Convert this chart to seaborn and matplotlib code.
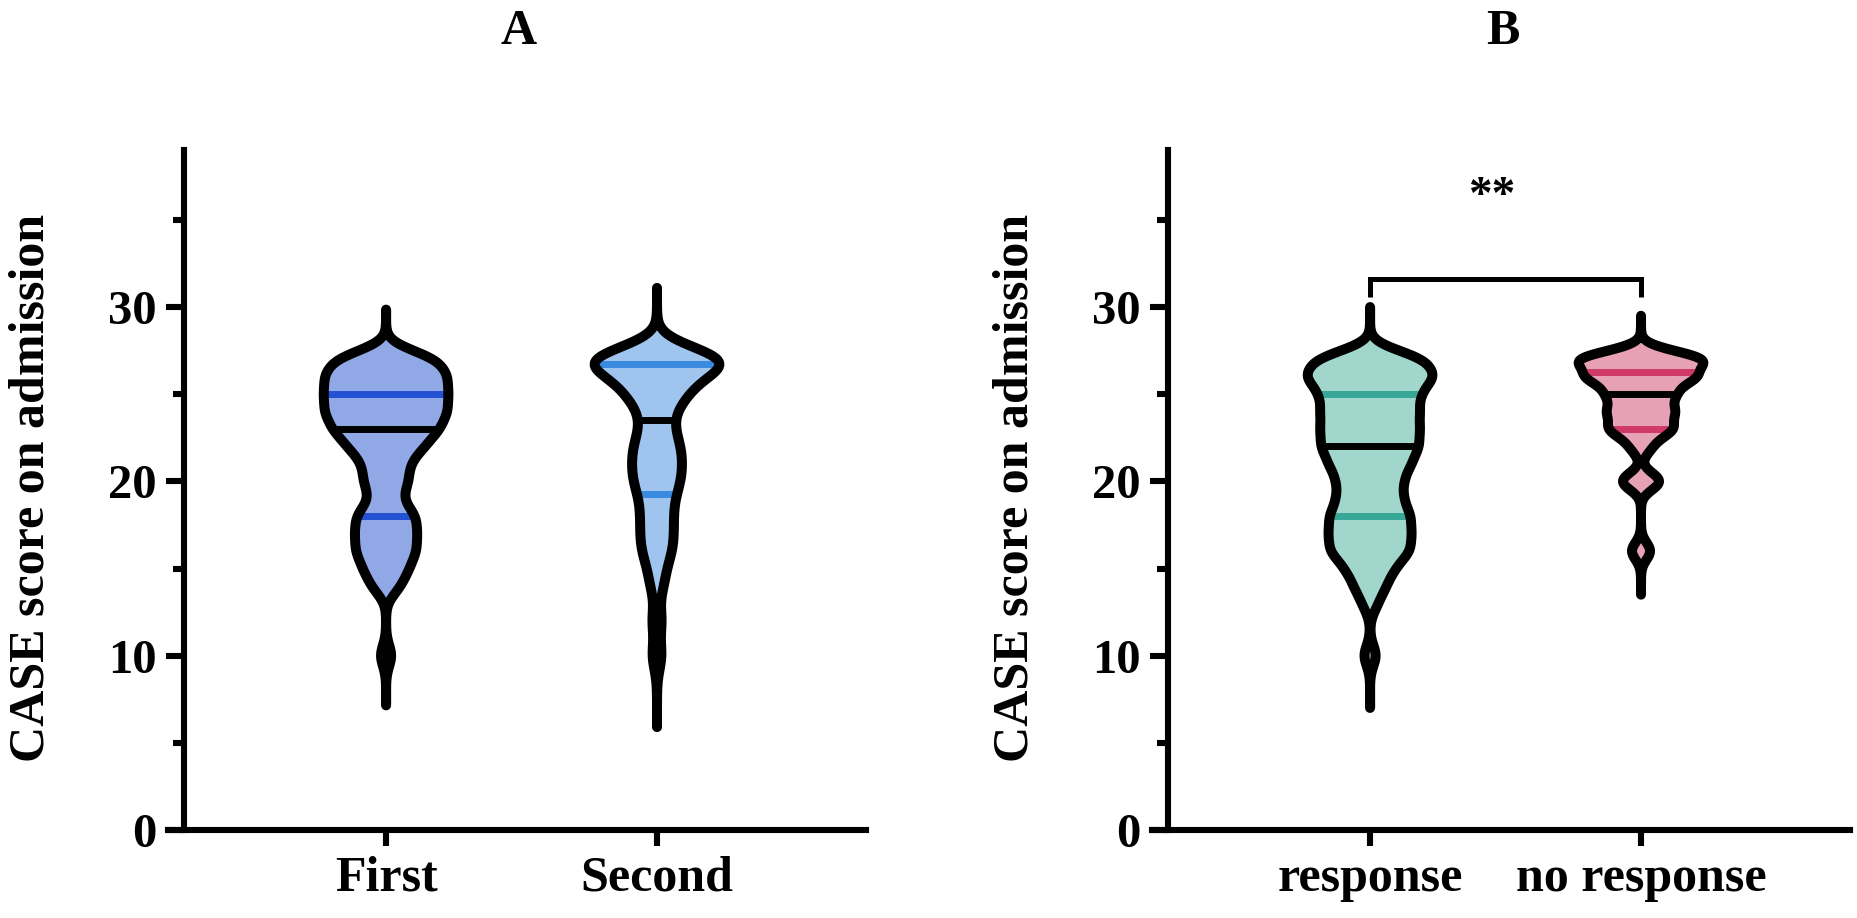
import numpy as np
import pandas as pd
import matplotlib
matplotlib.use("Agg")
from matplotlib import pyplot as plt
from matplotlib.patches import PathPatch
import seaborn as sns

# ---------------------------------------------------------------------
# data : CASE score -> number of patients (estimated from the violins)
first_scores = [10, 14, 15, 16, 17, 18, 19, 20, 21, 22, 23, 24, 25, 26, 27]
first_counts = [1, 2, 3, 4, 4, 4, 2, 3, 3, 5, 7, 8, 8, 8, 7]

second_scores = [10, 12, 14, 15, 16, 17, 18, 19, 20, 21, 22, 23, 24, 25, 26, 27]
second_counts = [1, 1, 1, 1, 2, 2, 2, 2, 3, 3, 3, 2, 2, 4, 5, 12]

resp_scores = [10, 13, 14, 15, 16, 17, 18, 19, 20, 21, 22, 23, 24, 25, 26, 27]
resp_counts = [1, 1, 2, 3, 5, 5, 5, 4, 4, 5, 6, 6, 6, 6, 8, 7]

noresp_scores = [16, 20, 22, 23, 24, 25, 26, 27]
noresp_counts = [1, 2, 1, 3, 3, 3, 5, 6]

panel_a_groups = ["First", "Second"]
panel_b_groups = ["response", "no response"]
panel_titles = ["A", "B"]
y_label = "CASE score on admission"
sig_label = "**"

# ---------------------------------------------------------------------
# styles
fills = {"First": "#91a8e6", "Second": "#9fc4ee",
         "response": "#a0d6cc", "no response": "#e6a1b5"}
qcolors = {"First": "#2450d2", "Second": "#3a8ae0",
           "response": "#37a797", "no response": "#cf3a69"}
bandwidth = {"First": 0.62, "Second": 0.82, "response": 0.6, "no response": 0.5}
cut_bw = {"First": 4.6, "Second": 5.0, "response": 5.0, "no response": 5.0}

plt.rcParams["font.family"] = ["Liberation Serif", "DejaVu Serif"]
plt.rcParams["font.weight"] = "bold"

OUTLINE_LW = 7.2
QUART_LW = 5.0
SPINE_LW = 4.4


def draw_violin(ax, group, order, scores, counts):
    vals = np.repeat(scores, counts).astype(float)
    df = pd.DataFrame({"group": group, "score": vals})
    n_lines = len(ax.lines)
    n_coll = len(ax.collections)
    sd = vals.std(ddof=1)
    sns.violinplot(data=df, x="group", y="score", order=order, ax=ax,
                   color=fills[group], saturation=1, linewidth=1,
                   bw_method=bandwidth[group] / sd, cut=cut_bw[group],
                   gridsize=400, width=0.46, density_norm="width",
                   inner="quart")

    # quartile lines: solid, coloured, black median
    new_lines = ax.lines[n_lines:]
    for i, ln in enumerate(new_lines):
        ln.set_linestyle("-")
        ln.set_linewidth(QUART_LW)
        ln.set_solid_capstyle("butt")
        ln.set_color("black" if i == 1 else qcolors[group])
        ln.set_zorder(2)

    # thick outline drawn above the quartile lines
    for coll in ax.collections[n_coll:]:
        coll.set_edgecolor("none")
        for p in coll.get_paths():
            ax.add_patch(PathPatch(p, facecolor="none", edgecolor="black",
                                   lw=OUTLINE_LW, joinstyle="round",
                                   capstyle="round", zorder=3, clip_on=False))


def style_axis(ax):
    ax.set_xlim(-0.805, 1.77)
    ax.set_ylim(0, 39.5)
    for s in ["top", "right"]:
        ax.spines[s].set_visible(False)
    ax.spines["left"].set_position(("data", -0.745))
    ax.spines["left"].set_bounds(0, 39)
    ax.spines["left"].set_linewidth(SPINE_LW)
    ax.spines["bottom"].set_linewidth(SPINE_LW)
    ax.set_yticks([0, 10, 20, 30])
    ax.set_yticks([5, 15, 25, 35], minor=True)
    ax.tick_params(axis="y", which="major", length=12.7, width=SPINE_LW,
                   pad=7, labelsize=35)
    ax.tick_params(axis="y", which="minor", length=7.6, width=SPINE_LW)
    ax.tick_params(axis="x", which="major", length=11.5, width=SPINE_LW,
                   pad=7, labelsize=36)
    ax.set_xlabel("")
    ax.set_ylabel("")
    ax.grid(False)


fig = plt.figure(figsize=(18.58, 9.18), dpi=100)
ax_a = fig.add_axes([0.0904, 0.0959, 0.3755, 0.75])
ax_b = fig.add_axes([0.6200, 0.0959, 0.3755, 0.75])

draw_violin(ax_a, "First", panel_a_groups, first_scores, first_counts)
draw_violin(ax_a, "Second", panel_a_groups, second_scores, second_counts)
draw_violin(ax_b, "response", panel_b_groups, resp_scores, resp_counts)
draw_violin(ax_b, "no response", panel_b_groups, noresp_scores, noresp_counts)

for ax in (ax_a, ax_b):
    style_axis(ax)

# significance bracket
ax_b.plot([0, 0, 1, 1], [30.6, 31.6, 31.6, 30.6], color="black", lw=3.6,
          solid_joinstyle="miter", solid_capstyle="butt", clip_on=False)
ax_b.text(0.45, 35.7, sig_label, ha="center", va="baseline", fontsize=34,
          fontweight="bold")

# panel letters and y labels
fig.text(0.279, 1 - 32 / 918, panel_titles[0], ha="center", va="center",
         fontsize=36, fontweight="bold")
fig.text(0.809, 1 - 32 / 918, panel_titles[1], ha="center", va="center",
         fontsize=36, fontweight="bold")
fig.text(0.0170, 0.468, y_label, rotation=90, ha="center", va="center",
         fontsize=36, fontweight="bold")
fig.text(0.5465, 0.468, y_label, rotation=90, ha="center", va="center",
         fontsize=36, fontweight="bold")

fig.savefig("out.png", dpi=100)
